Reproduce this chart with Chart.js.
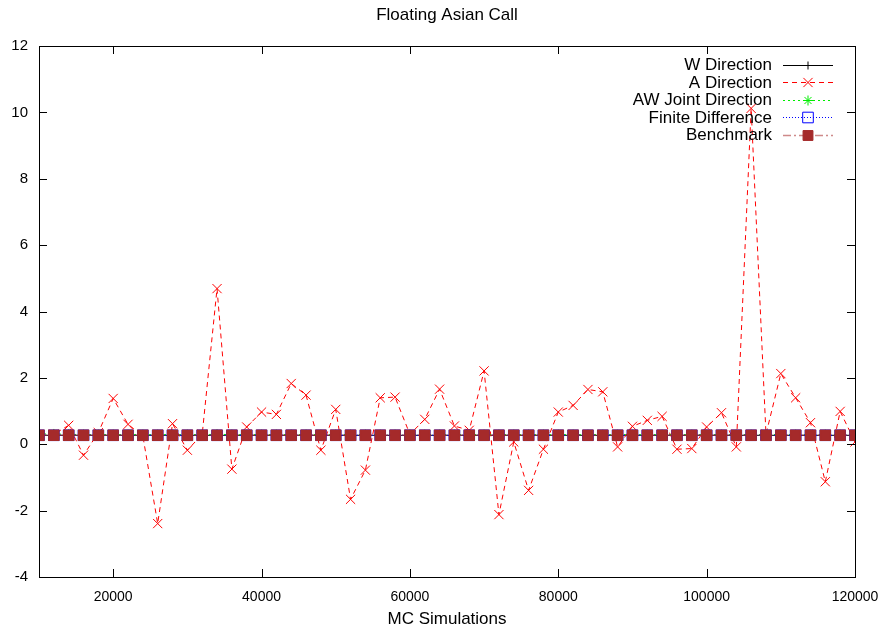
<!DOCTYPE html>
<html>
<head>
<meta charset="utf-8">
<title>Floating Asian Call</title>
<script src="https://cdn.jsdelivr.net/npm/chart.js@4/dist/chart.umd.min.js"></script>
<style>
  html, body { margin: 0; padding: 0; background: #fff; }
  #wrap { width: 888px; height: 628px; }
</style>
</head>
<body>
<div id="wrap"><canvas id="greeksChart" width="888" height="628"></canvas></div>
<script>
// MC simulation counts (x values)
const mcSims = [10000, 12000, 14000, 16000, 18000, 20000, 22000, 24000, 26000, 28000,
    30000, 32000, 34000, 36000, 38000, 40000, 42000, 44000, 46000, 48000,
    50000, 52000, 54000, 56000, 58000, 60000, 62000, 64000, 66000, 68000,
    70000, 72000, 74000, 76000, 78000, 80000, 82000, 84000, 86000, 88000,
    90000, 92000, 94000, 96000, 98000, 100000, 102000, 104000, 106000, 108000,
    110000, 112000, 114000, 116000, 118000, 120000];

// estimates, one per simulation count
const wDirection = [0.27, 0.27, 0.27, 0.27, 0.27, 0.27, 0.27, 0.27, 0.27, 0.27,
    0.27, 0.27, 0.27, 0.27, 0.27, 0.27, 0.27, 0.27, 0.27, 0.27,
    0.27, 0.27, 0.27, 0.27, 0.27, 0.27, 0.27, 0.27, 0.27, 0.27,
    0.27, 0.27, 0.27, 0.27, 0.27, 0.27, 0.27, 0.27, 0.27, 0.27,
    0.27, 0.27, 0.27, 0.27, 0.27, 0.27, 0.27, 0.27, 0.27, 0.27,
    0.27, 0.27, 0.27, 0.27, 0.27, 0.27];

const aDirection = [0.27, 0.30, 0.57, -0.33, 0.35, 1.38, 0.60, 0.25, -2.39, 0.62,
    -0.18, 0.30, 4.69, -0.75, 0.52, 0.97, 0.90, 1.83, 1.48, -0.18,
    1.05, -1.66, -0.78, 1.40, 1.42, 0.30, 0.75, 1.66, 0.55, 0.42,
    2.21, -2.12, 0.07, -1.39, -0.15, 0.97, 1.17, 1.65, 1.58, -0.08,
    0.54, 0.72, 0.84, -0.15, -0.13, 0.52, 0.95, -0.08, 10.12, 0.30,
    2.13, 1.40, 0.65, -1.13, 0.99, 0.07];

const awJointDirection = [0.31, 0.31, 0.30, 0.29, 0.29, 0.29, 0.29, 0.29, 0.29, 0.29,
    0.29, 0.29, 0.30, 0.29, 0.29, 0.29, 0.29, 0.29, 0.29, 0.29,
    0.29, 0.29, 0.29, 0.29, 0.29, 0.29, 0.29, 0.29, 0.29, 0.29,
    0.29, 0.29, 0.29, 0.29, 0.29, 0.29, 0.29, 0.29, 0.29, 0.29,
    0.29, 0.29, 0.29, 0.29, 0.29, 0.29, 0.29, 0.29, 0.29, 0.29,
    0.29, 0.29, 0.29, 0.29, 0.29, 0.29];

const finiteDifference = [0.27, 0.27, 0.27, 0.27, 0.27, 0.27, 0.27, 0.27, 0.27, 0.27,
    0.27, 0.27, 0.27, 0.27, 0.27, 0.27, 0.27, 0.27, 0.27, 0.27,
    0.27, 0.27, 0.27, 0.27, 0.27, 0.27, 0.27, 0.27, 0.27, 0.27,
    0.27, 0.27, 0.27, 0.27, 0.27, 0.27, 0.27, 0.27, 0.27, 0.27,
    0.27, 0.27, 0.27, 0.27, 0.27, 0.27, 0.27, 0.27, 0.27, 0.27,
    0.27, 0.27, 0.27, 0.27, 0.27, 0.27];

const benchmark = [0.27, 0.27, 0.27, 0.27, 0.27, 0.27, 0.27, 0.27, 0.27, 0.27,
    0.27, 0.27, 0.27, 0.27, 0.27, 0.27, 0.27, 0.27, 0.27, 0.27,
    0.27, 0.27, 0.27, 0.27, 0.27, 0.27, 0.27, 0.27, 0.27, 0.27,
    0.27, 0.27, 0.27, 0.27, 0.27, 0.27, 0.27, 0.27, 0.27, 0.27,
    0.27, 0.27, 0.27, 0.27, 0.27, 0.27, 0.27, 0.27, 0.27, 0.27,
    0.27, 0.27, 0.27, 0.27, 0.27, 0.27];

const xTicks = [20000, 40000, 60000, 80000, 100000, 120000];
const yTicks = [-4, -2, 0, 2, 4, 6, 8, 10, 12];

const FONT = 'Liberation Sans, Arial, Helvetica, sans-serif';

function toPoints(values) {
    return values.map((v, i) => ({ x: mcSims[i], y: v }));
}

// Inward tick marks on all four sides plus the box, gnuplot style
const frameTicks = {
    id: 'frameTicks',
    afterDraw(chart) {
        const { ctx, chartArea: a, scales } = chart;
        const len = 8;
        ctx.save();
        ctx.strokeStyle = '#000';
        ctx.lineWidth = 1;
        ctx.beginPath();
        xTicks.forEach(v => {
            const px = Math.round(scales.x.getPixelForValue(v)) + 0.5;
            ctx.moveTo(px, a.bottom); ctx.lineTo(px, a.bottom - len);
            ctx.moveTo(px, a.top); ctx.lineTo(px, a.top + len);
        });
        yTicks.forEach(v => {
            const py = Math.round(scales.y.getPixelForValue(v)) + 0.5;
            ctx.moveTo(a.left, py); ctx.lineTo(a.left + len, py);
            ctx.moveTo(a.right, py); ctx.lineTo(a.right - len, py);
        });
        ctx.stroke();
        ctx.strokeRect(Math.round(a.left) + 0.5, Math.round(a.top) + 0.5,
            Math.round(a.right - a.left), Math.round(a.bottom - a.top));
        ctx.restore();
    }
};

function drawMarker(ctx, ds, x, y) {
    const r = ds.pointRadius;
    ctx.save();
    ctx.lineWidth = 1;
    ctx.strokeStyle = ds.pointBorderColor;
    ctx.fillStyle = ds.pointBackgroundColor;
    ctx.beginPath();
    if (ds.pointStyle === 'cross') {
        ctx.moveTo(x - r, y); ctx.lineTo(x + r, y);
        ctx.moveTo(x, y - r); ctx.lineTo(x, y + r);
        ctx.stroke();
    } else if (ds.pointStyle === 'crossRot') {
        const d = r * Math.SQRT1_2;
        ctx.moveTo(x - d, y - d); ctx.lineTo(x + d, y + d);
        ctx.moveTo(x - d, y + d); ctx.lineTo(x + d, y - d);
        ctx.stroke();
    } else if (ds.pointStyle === 'star') {
        const d = r * Math.SQRT1_2;
        ctx.moveTo(x - r, y); ctx.lineTo(x + r, y);
        ctx.moveTo(x, y - r); ctx.lineTo(x, y + r);
        ctx.moveTo(x - d, y - d); ctx.lineTo(x + d, y + d);
        ctx.moveTo(x - d, y + d); ctx.lineTo(x + d, y - d);
        ctx.stroke();
    } else if (ds.pointStyle === 'rect') {
        const s = r * Math.SQRT1_2;
        ctx.rect(x - s, y - s, 2 * s, 2 * s);
        if (ds.pointBackgroundColor !== 'transparent') ctx.fill();
        ctx.stroke();
    }
    ctx.restore();
}

// Key in the top right corner: label, sample line, marker
const gnuKey = {
    id: 'gnuKey',
    afterDatasetsDraw(chart) {
        const ctx = chart.ctx;
        const textRight = 772;
        const lineStart = 783, lineEnd = 833, mid = 808;
        let y = 64.5;
        ctx.save();
        ctx.font = '17px ' + FONT;
        ctx.textAlign = 'right';
        ctx.textBaseline = 'middle';
        chart.data.datasets.forEach(ds => {
            ctx.fillStyle = '#000';
            ctx.fillText(ds.label, textRight, y + 1);
            ctx.save();
            ctx.strokeStyle = ds.borderColor;
            ctx.lineWidth = ds.borderWidth;
            ctx.setLineDash(ds.borderDash || []);
            ctx.beginPath();
            ctx.moveTo(lineStart, Math.round(y) + 0.5);
            ctx.lineTo(lineEnd, Math.round(y) + 0.5);
            ctx.stroke();
            ctx.restore();
            drawMarker(ctx, ds, mid, Math.round(y) + 0.5);
            y += 17.5;
        });
        ctx.restore();
    }
};

document.addEventListener('DOMContentLoaded', function() {
    const ctx = document.getElementById('greeksChart').getContext('2d');

    new Chart(ctx, {
        type: 'line',
        data: {
            datasets: [
                {
                    label: 'W Direction',
                    data: toPoints(wDirection),
                    borderColor: '#000000',
                    borderWidth: 1,
                    pointStyle: 'cross',
                    pointRadius: 4,
                    pointBorderColor: '#000000',
                    pointBackgroundColor: '#000000',
                    order: 5
                },
                {
                    label: 'A Direction',
                    data: toPoints(aDirection),
                    borderColor: '#ff0000',
                    borderWidth: 1,
                    borderDash: [5, 4],
                    pointStyle: 'crossRot',
                    pointRadius: 6.5,
                    pointBorderColor: '#ff0000',
                    pointBackgroundColor: '#ff0000',
                    order: 4
                },
                {
                    label: 'AW Joint Direction',
                    data: toPoints(awJointDirection),
                    borderColor: '#00ee00',
                    borderWidth: 1,
                    borderDash: [2, 3],
                    pointStyle: 'star',
                    pointRadius: 5,
                    pointBorderColor: '#00ee00',
                    pointBackgroundColor: '#00ee00',
                    order: 3
                },
                {
                    label: 'Finite Difference',
                    data: toPoints(finiteDifference),
                    borderColor: '#0000ff',
                    borderWidth: 1,
                    borderDash: [1, 2],
                    pointStyle: 'rect',
                    pointRadius: 7.5,
                    pointBorderColor: '#0000ff',
                    pointBackgroundColor: 'transparent',
                    order: 2
                },
                {
                    label: 'Benchmark',
                    data: toPoints(benchmark),
                    borderColor: 'rgba(165, 42, 42, 0.55)',
                    borderWidth: 1.5,
                    borderDash: [8, 3, 2, 3],
                    pointStyle: 'rect',
                    pointRadius: 7,
                    pointBorderColor: '#a52a2a',
                    pointBackgroundColor: '#a52a2a',
                    order: 1
                }
            ]
        },
        options: {
            responsive: false,
            animation: false,
            layout: { padding: { left: 0, right: 33, top: 0, bottom: 0 } },
            elements: { line: { tension: 0 }, point: { hoverRadius: 7 } },
            plugins: {
                legend: { display: false },
                tooltip: { enabled: false },
                title: {
                    display: true,
                    fullSize: false,
                    text: 'Floating Asian Call',
                    color: '#000',
                    font: { family: FONT, size: 17, weight: 'normal', lineHeight: 1.2 },
                    padding: { top: 5, bottom: 20.6 }
                }
            },
            scales: {
                x: {
                    type: 'linear',
                    min: 10000,
                    max: 120000,
                    afterBuildTicks: scale => { scale.ticks = xTicks.map(v => ({ value: v })); },
                    afterFit: scale => {
                        scale.height = 51;
                        scale.paddingLeft = 0;
                        scale.paddingRight = 0;
                    },
                    grid: { display: false, drawTicks: false },
                    border: { display: false },
                    ticks: {
                        color: '#000',
                        font: { family: FONT, size: 14 },
                        padding: 12,
                        maxRotation: 0,
                        autoSkip: false,
                        callback: value => String(value)
                    },
                    title: {
                        display: true,
                        text: 'MC Simulations',
                        color: '#000',
                        font: { family: FONT, size: 17, lineHeight: 1 },
                        padding: { top: 0, bottom: 0 }
                    }
                },
                y: {
                    type: 'linear',
                    min: -4,
                    max: 12,
                    afterBuildTicks: scale => { scale.ticks = yTicks.map(v => ({ value: v })); },
                    afterFit: scale => { scale.width = 39; },
                    grid: { display: false, drawTicks: false },
                    border: { display: false },
                    ticks: {
                        color: '#000',
                        font: { family: FONT, size: 15 },
                        padding: 11,
                        callback: value => String(value)
                    }
                }
            }
        },
        plugins: [frameTicks, gnuKey]
    });
});
</script>
</body>
</html>
